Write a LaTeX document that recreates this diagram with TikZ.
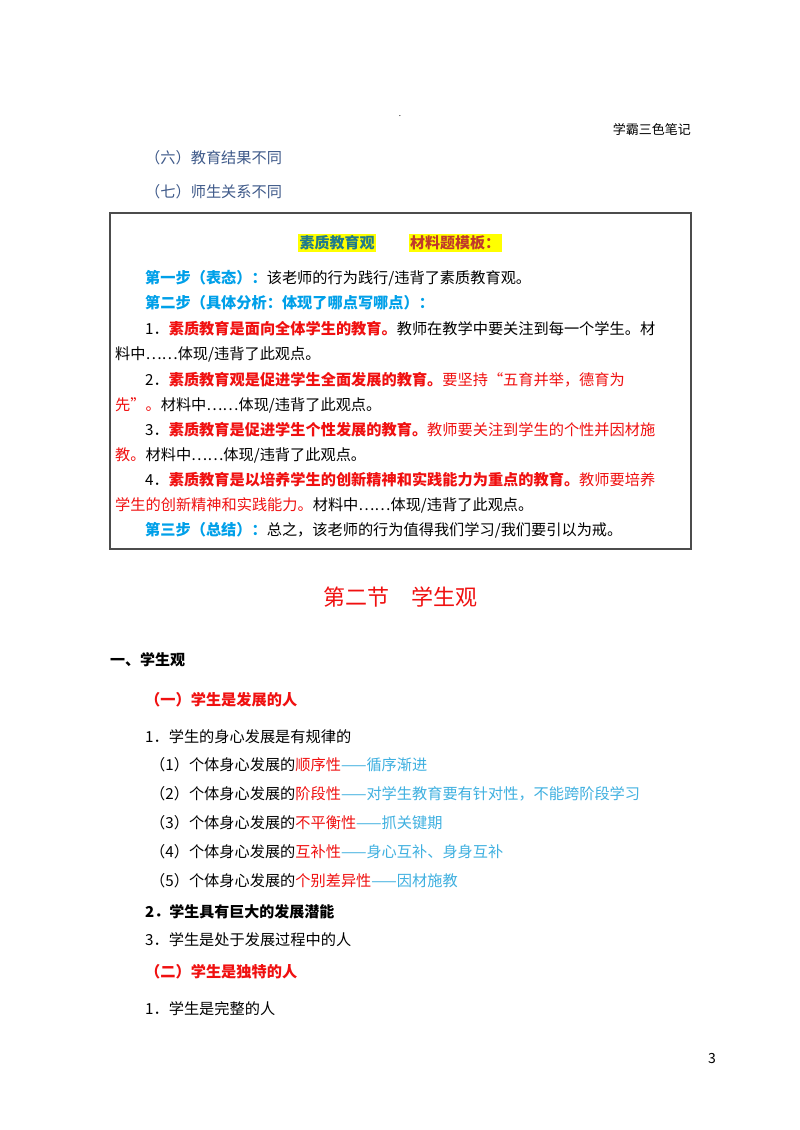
\documentclass[tikz,border=0pt]{standalone}
\usepackage{fontspec}
\setmainfont{Noto Sans CJK SC}
\definecolor{slate}{HTML}{3F5A8A}
\definecolor{stepblue}{HTML}{00A0E9}
\definecolor{lblue}{HTML}{3FB0E0}
\definecolor{rred}{HTML}{F01010}
\definecolor{teal2}{HTML}{1F7A8C}
\definecolor{brick}{HTML}{C0392B}
\definecolor{hl}{HTML}{FFFF00}
\tikzset{t/.style={anchor=west,inner sep=0pt,font=\fontsize{15.2}{17}\selectfont},
 hb/.style={fill=hl,inner sep=1.5pt,font=\fontsize{15}{17}\selectfont\bfseries}}
\newcommand{\bl}[1]{\textcolor{stepblue}{\bfseries #1}}
\newcommand{\rd}[1]{\textcolor{rred}{\bfseries #1}}
\newcommand{\rn}[1]{\textcolor{rred}{#1}}
\newcommand{\lb}[1]{\textcolor{lblue}{#1}}
\begin{document}
\begin{tikzpicture}[x=1pt,y=-1pt]
\useasboundingbox[fill=white] (0,0) rectangle (800,1130);
\node[inner sep=0pt,font=\fontsize{8}{8}\selectfont] (dot) at (400,116) {.};
\node[anchor=east,inner sep=0pt,font=\fontsize{13}{15}\selectfont] (hdr) at (691,130) {学霸三色笔记};
\node[t,text=slate] (l6) at (145,158) {（六）教育结果不同};
\node[t,text=slate] (l7) at (145,192) {（七）师生关系不同};
\draw[line width=1.2pt,gray!60!black] (110,213) rectangle (691,549);
\node[hb,text=teal2] (h1) at (337,243) {素质教育观};
\node[hb,text=brick] (h2) at (455,243) {材料题模板：};
\node[t] (s1) at (145,278) {\bl{第一步（表态）：}该老师的行为践行/违背了素质教育观。};
\node[t] (s2) at (145,303) {\bl{第二步（具体分析：体现了哪点写哪点）：}};
\node[t] (a1) at (145,329) {1．\rd{素质教育是面向全体学生的教育。}教师在教学中要关注到每一个学生。材};
\node[t] (a1b) at (115,354) {料中……体现/违背了此观点。};
\node[t] (a2) at (145,380) {2．\rd{素质教育观是促进学生全面发展的教育。}\rn{要坚持“五育并举，德育为}};
\node[t] (a2b) at (115,405) {\rn{先”。}材料中……体现/违背了此观点。};
\node[t] (a3) at (145,430) {3．\rd{素质教育是促进学生个性发展的教育。}\rn{教师要关注到学生的个性并因材施}};
\node[t] (a3b) at (115,455) {\rn{教。}材料中……体现/违背了此观点。};
\node[t] (a4) at (145,480) {4．\rd{素质教育是以培养学生的创新精神和实践能力为重点的教育。}\rn{教师要培养}};
\node[t] (a4b) at (115,505) {\rn{学生的创新精神和实践能力。}材料中……体现/违背了此观点。};
\node[t] (s3) at (145,530) {\bl{第三步（总结）：}总之，该老师的行为值得我们学习/我们要引以为戒。};
\node[inner sep=0pt,text=rred,font=\fontsize{22}{26}\selectfont] (sec) at (400,597) {第二节\quad 学生观};
\node[t,font=\fontsize{15}{17}\selectfont\bfseries] (p1) at (110,660) {一、学生观};
\node[t] (q1) at (145,700) {\rd{（一）学生是发展的人}};
\node[t] (r1) at (145,737) {1．学生的身心发展是有规律的};
\node[t] (r11) at (150,765) {（1）个体身心发展的\rn{顺序性}\lb{——循序渐进}};
\node[t] (r12) at (150,794) {（2）个体身心发展的\rn{阶段性}\lb{——对学生教育要有针对性，不能跨阶段学习}};
\node[t] (r13) at (150,823) {（3）个体身心发展的\rn{不平衡性}\lb{——抓关键期}};
\node[t] (r14) at (150,852) {（4）个体身心发展的\rn{互补性}\lb{——身心互补、身身互补}};
\node[t] (r15) at (150,881) {（5）个体身心发展的\rn{个别差异性}\lb{——因材施教}};
\node[t,font=\fontsize{15}{17}\selectfont\bfseries] (r2) at (145,912) {2．学生具有巨大的发展潜能};
\node[t] (r3) at (145,940) {3．学生是处于发展过程中的人};
\node[t] (q2) at (145,972) {\rd{（二）学生是独特的人}};
\node[t] (u1) at (145,1009) {1．学生是完整的人};
\node[inner sep=0pt,font=\fontsize{14}{16}\selectfont] (pg) at (712,1058) {3};
\end{tikzpicture}
\end{document}
